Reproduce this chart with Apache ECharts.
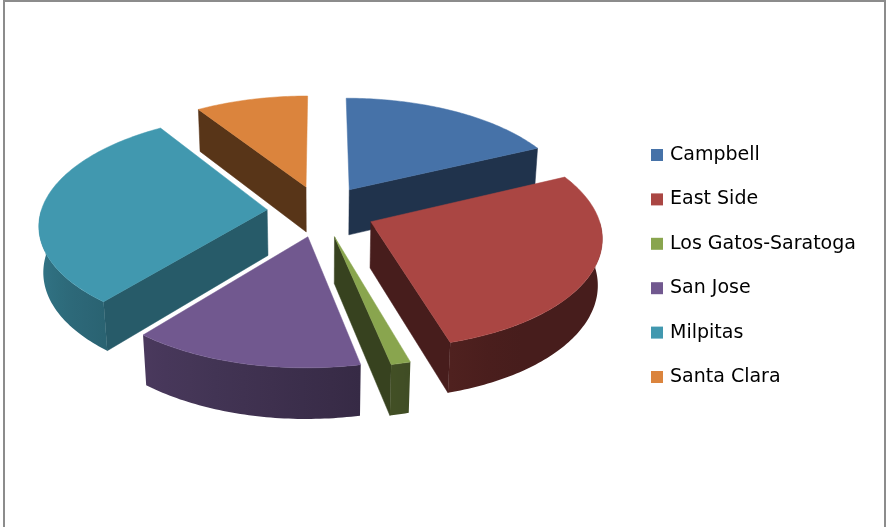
<!DOCTYPE html>
<html><head><meta charset="utf-8">
<script src="https://cdn.jsdelivr.net/npm/echarts@6/dist/echarts.min.js"></script>
<style>html,body{margin:0;padding:0;background:#fff}#c{width:886px;height:527px}</style>
</head><body><div id="c"></div>
<script>
// ---- data ----
const categories = ['Campbell', 'East Side', 'Los Gatos-Saratoga', 'San Jose', 'Milpitas', 'Santa Clara'];
const values = [18.0, 27.5, 1.2, 14.2, 29.9, 9.2];

// ---- styles ----
const topColors = ['#4672A8', '#AA4643', '#89A54E', '#71588F', '#4198AF', '#DB843D'];
const faceShade = [0.45, 0.42, 0.40, 0.50, 0.60, 0.40];

const G = { cx: 321, cy: 211, R: 226, h: 53, e: 54, phi: 28.5 * Math.PI / 180, D: 1600 };

const total = values.reduce((a, b) => a + b, 0);
const starts = [];
(function () { let acc = 0; values.forEach(v => { starts.push(acc / total * 360); acc += v; }); })();

function proj(x, y, z) {
  const s = Math.sin(G.phi), c = Math.cos(G.phi);
  const v = z * s - y * c;
  const w = z * c + y * s;
  const k = G.D / (G.D - w);
  return [G.cx + x * k, G.cy + v * k];
}
function rad(d) { return d * Math.PI / 180; }
function shade(hex, f) {
  const n = parseInt(hex.slice(1), 16);
  const r = Math.round(((n >> 16) & 255) * f), g = Math.round(((n >> 8) & 255) * f), b = Math.round((n & 255) * f);
  return 'rgb(' + r + ',' + g + ',' + b + ')';
}
function wallBright(t) {
  const u = Math.max(0, Math.min(1, (t - 150) / 120));
  return 0.42 + 0.40 * u;
}

function renderSlice(i) {
  return function (params, api) {
    const val = api.value(0);
    const a = starts[i];
    const b = a + val / total * 360;
    const m = (a + b) / 2;
    const ox = G.e * Math.sin(rad(m)), oz = -G.e * Math.cos(rad(m));
    const pt = (t, y) => proj(ox + G.R * Math.sin(rad(t)), y, oz - G.R * Math.cos(rad(t)));
    const ctr = (y) => proj(ox, y, oz);
    const base = Math.round(1000 + 400 * (-Math.cos(rad(m))));
    const children = [];
    const col = topColors[i];
    if (-Math.sin(rad(a)) > 1e-6) {
      children.push({ type: 'polygon', z2: base + 1,
        shape: { points: [ctr(0), pt(a, 0), pt(a, -G.h), ctr(-G.h)] },
        style: { fill: shade(col, faceShade[i]), stroke: shade(col, faceShade[i]), lineWidth: 0.5 } });
    }
    if (Math.sin(rad(b)) > 1e-6) {
      children.push({ type: 'polygon', z2: base + 1,
        shape: { points: [ctr(0), pt(b, 0), pt(b, -G.h), ctr(-G.h)] },
        style: { fill: shade(col, faceShade[i]), stroke: shade(col, faceShade[i]), lineWidth: 0.5 } });
    }
    const lo = Math.max(a, 90), hi = Math.min(b, 270);
    if (hi > lo) {
      const topPts = [], botPts = [];
      const n = Math.max(2, Math.ceil(hi - lo));
      for (let k = 0; k <= n; k++) {
        const t = lo + (hi - lo) * k / n;
        topPts.push(pt(t, 0)); botPts.push(pt(t, -G.h));
      }
      const pts = topPts.concat(botPts.reverse());
      const xs = pts.map(p => p[0]);
      const minX = Math.min(...xs), maxX = Math.max(...xs);
      const stops = [];
      const ns = 8;
      for (let k = 0; k <= ns; k++) {
        const t = lo + (hi - lo) * k / ns;
        const X = pt(t, 0)[0];
        stops.push({ offset: (X - minX) / Math.max(1, maxX - minX), color: shade(col, wallBright(t)) });
      }
      stops.sort((p, q) => p.offset - q.offset);
      children.push({ type: 'polygon', z2: base + 2,
        shape: { points: pts },
        style: { fill: new echarts.graphic.LinearGradient(0, 0, 1, 0, stops), stroke: null } });
    }
    const topFace = [ctr(0)];
    const n2 = Math.max(2, Math.ceil(b - a));
    for (let k = 0; k <= n2; k++) topFace.push(pt(a + (b - a) * k / n2, 0));
    children.push({ type: 'polygon', z2: base + 5, shape: { points: topFace },
      style: { fill: col, stroke: col, lineWidth: 0.5 } });
    return { type: 'group', children: children };
  };
}

const chart = echarts.init(document.getElementById('c'), null, { renderer: 'canvas' });
chart.setOption({
  animation: false,
  color: topColors,
  legend: {
    data: categories,
    orient: 'vertical',
    left: 651,
    top: 145,
    padding: 0,
    icon: 'rect',
    itemWidth: 12,
    itemHeight: 12,
    itemGap: 24.4,
    textStyle: { fontFamily: 'DejaVu Sans', fontSize: 19, color: '#000', lineHeight: 20, padding: [0, 0, 0, 2] },
    selectedMode: false
  },
  graphic: [{
    type: 'rect', shape: { x: 4, y: 1, width: 881, height: 560 },
    style: { fill: null, stroke: '#8c8c8c', lineWidth: 2 }, silent: true
  }],
  series: categories.map((name, i) => ({
    type: 'custom',
    name: name,
    coordinateSystem: 'none',
    itemStyle: { color: topColors[i] },
    renderItem: renderSlice(i),
    data: [[values[i]]]
  }))
});
</script>
</body></html>
